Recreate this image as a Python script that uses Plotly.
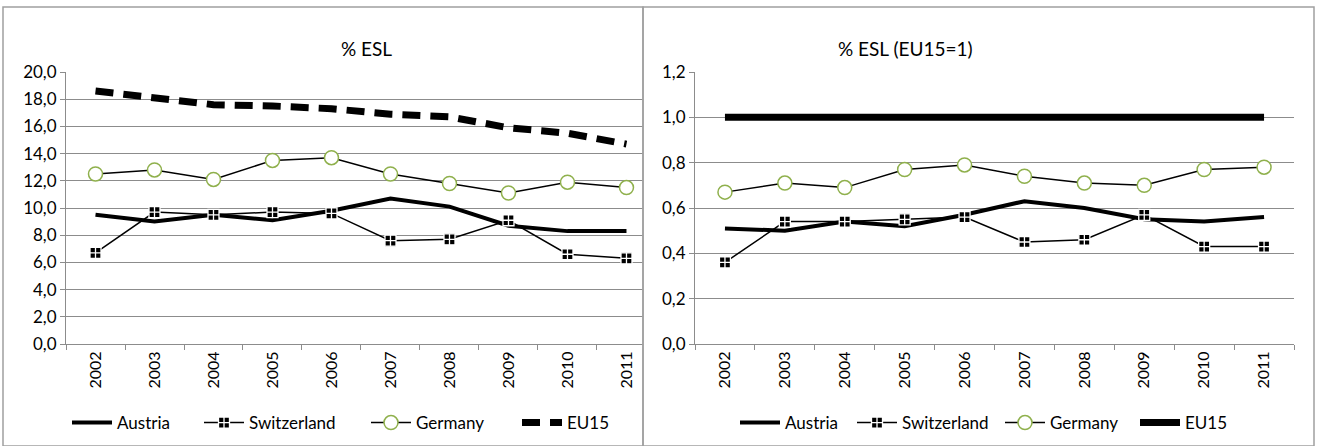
import plotly.graph_objects as go

# data
years = ["2002", "2003", "2004", "2005", "2006", "2007", "2008", "2009", "2010", "2011"]

esl_austria = [9.5, 9.0, 9.5, 9.1, 9.8, 10.7, 10.1, 8.7, 8.3, 8.3]
esl_switzerland = [6.7, 9.7, 9.5, 9.7, 9.6, 7.6, 7.7, 9.1, 6.6, 6.3]
esl_germany = [12.5, 12.8, 12.1, 13.5, 13.7, 12.5, 11.8, 11.1, 11.9, 11.5]
esl_eu15 = [18.6, 18.1, 17.6, 17.5, 17.3, 16.9, 16.7, 15.9, 15.5, 14.7]

rel_austria = [0.51, 0.50, 0.54, 0.52, 0.57, 0.63, 0.60, 0.55, 0.54, 0.56]
rel_switzerland = [0.36, 0.54, 0.54, 0.55, 0.56, 0.45, 0.46, 0.57, 0.43, 0.43]
rel_germany = [0.67, 0.71, 0.69, 0.77, 0.79, 0.74, 0.71, 0.70, 0.77, 0.78]
rel_eu15 = [1.0, 1.0, 1.0, 1.0, 1.0, 1.0, 1.0, 1.0, 1.0, 1.0]

W, H = 1317, 446
FONT = "Lato, 'Liberation Sans', sans-serif"
GRID = "#8c8c8c"
GREEN = "#8fb04c"

# left edge (px) of each legend entry, one legend per entry
left_legend_x = [71, 203, 370, 521]
right_legend_x = [739, 856, 1004, 1139]


def px_x(p):
    return p / W


def px_y(p):
    return 1 - p / H


def add_panel(fig, xa, ya, legs, aus, swi, ger, eu, eu_dash):
    fig.add_trace(go.Scatter(x=years, y=aus, name="Austria", mode="lines",
                             line=dict(color="black", width=4),
                             xaxis=xa, yaxis=ya, legend=legs[0]))
    fig.add_trace(go.Scatter(x=years, y=swi, name="Switzerland", mode="lines+markers",
                             line=dict(color="black", width=1.5),
                             marker=dict(symbol="square-cross", size=11, color="black",
                                         line=dict(color="white", width=1.3)),
                             xaxis=xa, yaxis=ya, legend=legs[1]))
    fig.add_trace(go.Scatter(x=years, y=ger, name="Germany", mode="lines+markers",
                             line=dict(color="black", width=1.5),
                             marker=dict(symbol="circle", size=14, color="white",
                                         line=dict(color=GREEN, width=1.5)),
                             xaxis=xa, yaxis=ya, legend=legs[2]))
    fig.add_trace(go.Scatter(x=years, y=eu, name="EU15", mode="lines",
                             line=dict(color="black", width=7, dash=eu_dash),
                             xaxis=xa, yaxis=ya, legend=legs[3]))


left_legs = ["legend", "legend2", "legend3", "legend4"]
right_legs = ["legend5", "legend6", "legend7", "legend8"]

fig = go.Figure()
add_panel(fig, "x", "y", left_legs, esl_austria, esl_switzerland, esl_germany, esl_eu15, "18px,10px")
add_panel(fig, "x2", "y2", right_legs, rel_austria, rel_switzerland, rel_germany, rel_eu15, "solid")

xcommon = dict(type="category", showgrid=False, showline=True, linecolor=GRID, linewidth=1,
               ticks="outside", tickson="boundaries", ticklen=5, tickcolor=GRID,
               tickangle=-90, tickfont=dict(size=16, color="black"), zeroline=False,
               automargin=False)
ycommon = dict(showgrid=True, gridcolor=GRID, gridwidth=1, showline=True, linecolor=GRID,
               linewidth=1, ticks="outside", ticklen=5, tickcolor=GRID,
               tickfont=dict(size=17, color="black"), zeroline=False, tickformat=".1f",
               automargin=False)

top, bottom = px_y(72), px_y(344)
legcommon = dict(orientation="h", yanchor="middle", y=px_y(423), xanchor="left",
                 font=dict(size=17), bgcolor="rgba(0,0,0,0)", itemwidth=40,
                 tracegroupgap=0)

legends = {}
for name, xpos in zip(left_legs + right_legs, left_legend_x + right_legend_x):
    legends[name] = dict(legcommon, x=px_x(xpos - 4))

fig.update_layout(
    template="none",
    width=W, height=H,
    margin=dict(l=0, r=0, t=0, b=0, pad=0, autoexpand=False),
    paper_bgcolor="white", plot_bgcolor="white",
    font=dict(family=FONT, color="black"),
    separators=",.",
    xaxis=dict(xcommon, domain=[px_x(66), px_x(643)], range=[-0.5, 9.28], anchor="y"),
    yaxis=dict(ycommon, domain=[bottom, top], range=[0, 20], dtick=2, anchor="x"),
    xaxis2=dict(xcommon, domain=[px_x(695), px_x(1294)], range=[-0.5, 9.5], anchor="y2"),
    yaxis2=dict(ycommon, domain=[bottom, top], range=[0, 1.2], dtick=0.2, anchor="x2"),
    showlegend=True,
    annotations=[
        dict(text="% ESL", x=px_x(339), y=px_y(35), xref="paper", yref="paper",
             showarrow=False, font=dict(size=19)),
        dict(text="% ESL (EU15=1)", x=px_x(975), y=px_y(35), xref="paper", yref="paper",
             showarrow=False, font=dict(size=19)),
    ],
    shapes=[
        dict(type="rect", xref="paper", yref="paper", x0=px_x(3), x1=px_x(643),
             y0=px_y(446), y1=px_y(7), line=dict(color="#a0a0a0", width=1.5)),
        dict(type="rect", xref="paper", yref="paper", x0=px_x(643), x1=px_x(1314),
             y0=px_y(446), y1=px_y(7), line=dict(color="#a0a0a0", width=1.5)),
    ],
    **legends,
)

# drop the page's default body margin so the figure starts at the window corner
fig.write_html("out.html", config={"displayModeBar": False},
               post_script="document.body.style.margin='0px';")
